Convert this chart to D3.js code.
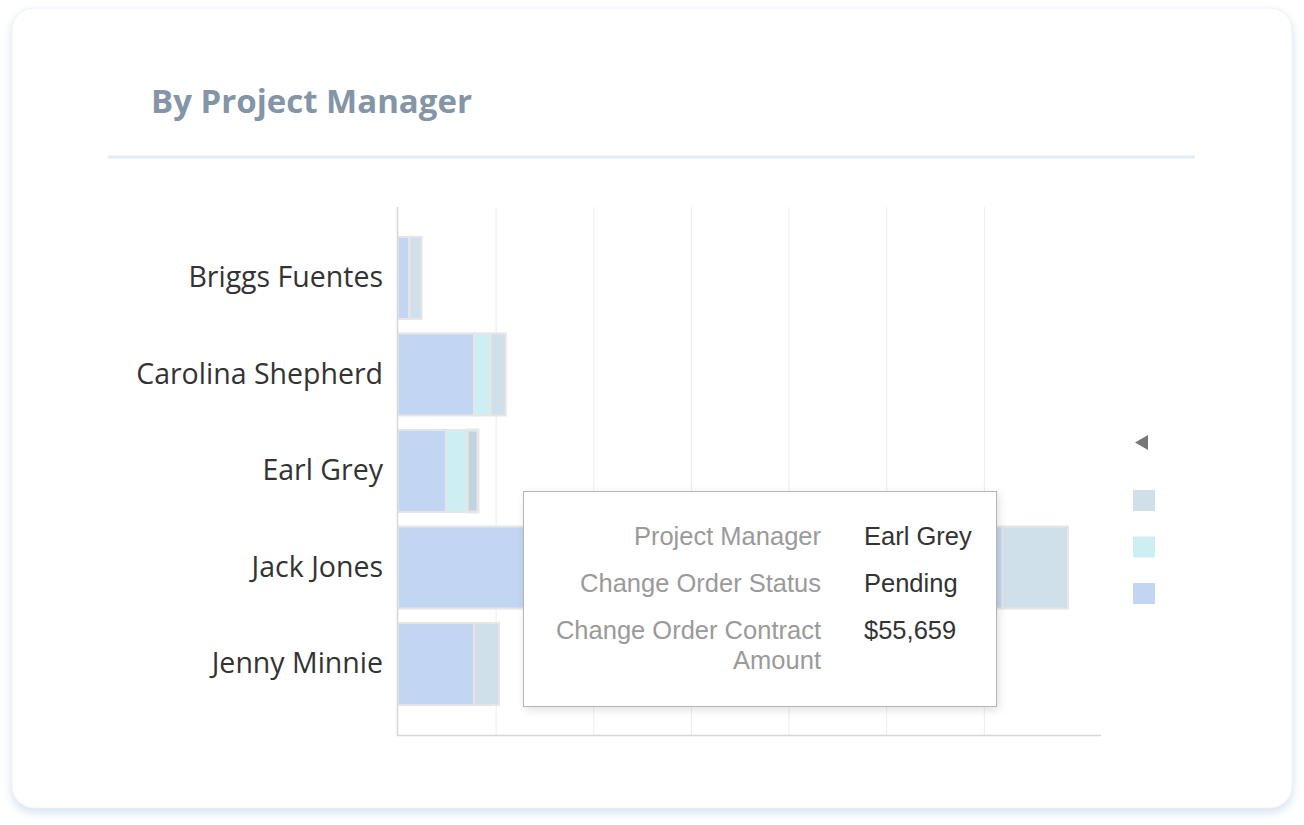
<!DOCTYPE html>
<html>
<head>
<meta charset="utf-8">
<script src="https://cdn.jsdelivr.net/npm/d3@7"></script>
<style>
  html, body { margin: 0; padding: 0; background: #ffffff; }
  svg { display: block; }
</style>
</head>
<body>
<svg id="chart" width="1304" height="825"></svg>
<script>
// ---- data ----
const managers = ["Briggs Fuentes", "Carolina Shepherd", "Earl Grey", "Jack Jones", "Jenny Minnie"];
const seriesNames = ["Approved", "Draft", "Pending"];
const approvedValues = [58000, 389000, 246000, 3096000, 389000];
const draftValues = [0, 84000, 108000, 0, 0];
const pendingValues = [63000, 79000, 55659, 335000, 128000];
const seriesColors = ["#c2d6f3", "#cdeff3", "#d0e0ea"];
const xTicks = [0, 500000, 1000000, 1500000, 2000000, 2500000, 3000000];
const tooltipLabels = ["Project Manager", "Change Order Status", "Change Order Contract", "Amount"];
const tooltipValues = ["Earl Grey", "Pending", "$55,659"];

const svg = d3.select("#chart");
const defs = svg.append("defs");

const cardShadow = defs.append("filter").attr("id", "cardShadow")
  .attr("x", "-5%").attr("y", "-5%").attr("width", "110%").attr("height", "115%");
cardShadow.append("feDropShadow").attr("dx", 0).attr("dy", 4).attr("stdDeviation", 5)
  .attr("flood-color", "#c9d9ea").attr("flood-opacity", 0.8);

const tipShadow = defs.append("filter").attr("id", "tipShadow")
  .attr("x", "-10%").attr("y", "-10%").attr("width", "125%").attr("height", "130%");
tipShadow.append("feDropShadow").attr("dx", 2).attr("dy", 3).attr("stdDeviation", 4)
  .attr("flood-color", "#000").attr("flood-opacity", 0.12);

// card
svg.append("rect").attr("x", 12).attr("y", 8).attr("width", 1280).attr("height", 800)
  .attr("rx", 22).attr("fill", "#fff").attr("stroke", "#eef2f6").attr("stroke-width", 1)
  .attr("filter", "url(#cardShadow)");

// title
svg.append("text").attr("x", 151).attr("y", 113)
  .attr("font-family", "'Open Sans', sans-serif").attr("font-weight", 700)
  .attr("font-size", 33).attr("fill", "#8395a6").text("By Project Manager");
svg.append("line").attr("x1", 108).attr("x2", 1195).attr("y1", 157).attr("y2", 157)
  .attr("stroke", "#e3ebf3").attr("stroke-width", 3);

// scales
const x = d3.scaleLinear().domain([0, 3600000]).range([398, 1101]);
const y = d3.scaleBand().domain(managers).range([207, 735]).paddingInner(0.15).paddingOuter(0.31);

// grid
svg.append("g").selectAll("line").data(xTicks.slice(1)).join("line")
  .attr("x1", d => x(d) + 0.5).attr("x2", d => x(d) + 0.5)
  .attr("y1", 207).attr("y2", 735)
  .attr("stroke", "#ececec").attr("stroke-width", 1);

// stacked bars
const rows = managers.map((m, i) => ({
  manager: m, Approved: approvedValues[i], Draft: draftValues[i], Pending: pendingValues[i]
}));
const stack = d3.stack().keys(seriesNames)(rows);
const isHover = (d, si) => d.data.manager === "Earl Grey" && seriesNames[si] === "Pending";

const barG = svg.append("g");
stack.forEach((layer, si) => {
  barG.append("g").selectAll("rect").data(layer.filter(d => d[1] > d[0])).join("rect")
    .attr("x", d => x(d[0]))
    .attr("y", d => y(d.data.manager))
    .attr("width", d => x(d[1]) - x(d[0]))
    .attr("height", y.bandwidth())
    .attr("fill", d => isHover(d, si) ? "#bfd3e3" : seriesColors[si])
    .attr("stroke", "#e6e6e6")
    .attr("stroke-width", d => isHover(d, si) ? 3 : 2);
});

// axes lines
svg.append("line").attr("x1", 397.5).attr("x2", 397.5).attr("y1", 207).attr("y2", 736)
  .attr("stroke", "#d6d6d6").attr("stroke-width", 1.5);
svg.append("line").attr("x1", 397).attr("x2", 1101).attr("y1", 735.5).attr("y2", 735.5)
  .attr("stroke", "#d6d6d6").attr("stroke-width", 1.5);

// category labels
const yAxis = d3.axisLeft(y).tickSize(0).tickPadding(14);
const yg = svg.append("g").attr("transform", "translate(397,0)").call(yAxis);
yg.select(".domain").remove();
yg.selectAll("text").attr("font-family", "'Open Sans', sans-serif").attr("font-size", 28.5)
  .attr("fill", "#333").attr("dy", "0.32em");

// legend (labels truncated in reference)
svg.append("path").attr("d", "M1148,435 L1148,450 L1135,442.5 Z").attr("fill", "#777");
const legendOrder = [2, 1, 0];
svg.append("g").selectAll("rect").data(legendOrder).join("rect")
  .attr("x", 1133).attr("y", (d, i) => 490 + i * 46.5).attr("width", 22).attr("height", 21)
  .attr("fill", d => seriesColors[d]);

// tooltip
const tip = svg.append("g");
tip.append("rect").attr("x", 523.5).attr("y", 491.5).attr("width", 473).attr("height", 215)
  .attr("fill", "#fff").attr("stroke", "#b5b5b5").attr("stroke-width", 1)
  .attr("filter", "url(#tipShadow)");
const rowY = [545, 592, 639, 669];
tip.selectAll("text.lab").data(tooltipLabels).join("text").attr("class", "lab")
  .attr("x", 821).attr("y", (d, i) => rowY[i]).attr("text-anchor", "end")
  .attr("font-family", "'Liberation Sans', Arial, sans-serif").attr("font-size", 25.5)
  .attr("fill", "#9a9a9a").text(d => d);
tip.selectAll("text.val").data(tooltipValues).join("text").attr("class", "val")
  .attr("x", 864).attr("y", (d, i) => rowY[i])
  .attr("font-family", "'Liberation Sans', Arial, sans-serif").attr("font-size", 25.5)
  .attr("fill", "#333").text(d => d);
</script>
</body>
</html>
